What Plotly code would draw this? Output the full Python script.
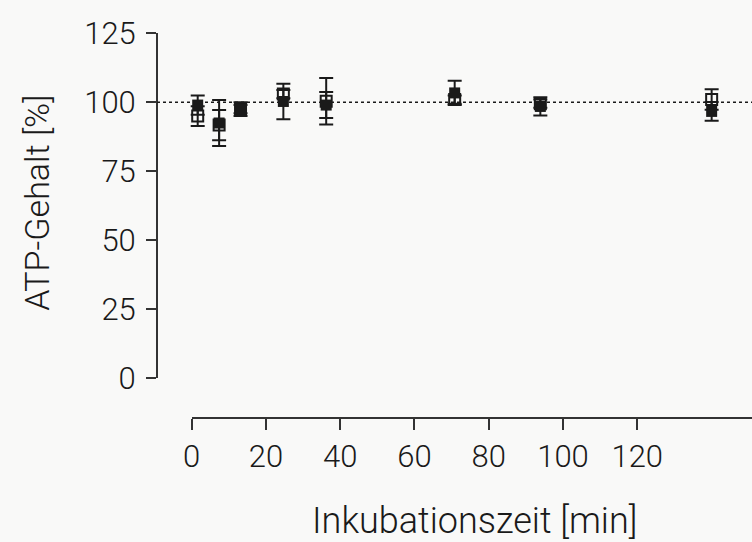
import plotly.graph_objects as go

# Incubation times [min]
times = [0, 5, 10, 20, 30, 60, 80, 120]

# ATP content [%], open squares
atp_open = [95, 91.75, 97.5, 103, 100.4, 101, 99.5, 101]
atp_open_err = [3.6, 5.5, 1.5, 1.5, 8.4, 1.5, 1.5, 3.7]

# ATP content [%], filled squares
atp_filled = [99, 92.5, 97.5, 100.3, 99, 103.4, 98.5, 96.7]
atp_filled_err = [3.5, 8.3, 2.5, 6.4, 4.7, 4.4, 3.3, 3.4]

x_ticks = [0, 20, 40, 60, 80, 100, 120]
y_ticks = [0, 25, 50, 75, 100, 125]
reference_level = 100

W, H = 752, 542
FONT = "Roboto"
INK = "#1a1a1a"


def px_x(p):
    return p / W


def px_y(p):
    return 1 - p / H


fig = go.Figure()

fig.add_trace(go.Scatter(
    x=times, y=atp_open,
    mode="markers",
    marker=dict(symbol="square-open", size=11, color=INK, line=dict(width=2, color=INK)),
    error_y=dict(type="data", array=atp_open_err, color=INK, thickness=2, width=7),
    cliponaxis=False,
    showlegend=False,
))

fig.add_trace(go.Scatter(
    x=times, y=atp_filled,
    mode="markers",
    marker=dict(symbol="square", size=11, color=INK, line=dict(width=0)),
    error_y=dict(type="data", array=atp_filled_err, color=INK, thickness=2, width=7),
    cliponaxis=False,
    showlegend=False,
))

# empty trace so the tick axis gets drawn
fig.add_trace(go.Scatter(x=[None], y=[None], xaxis="x2", yaxis="y",
                         showlegend=False, hoverinfo="skip"))

# dotted 100 % line
fig.add_shape(
    type="line", xref="paper", yref="y",
    x0=px_x(157), x1=1, y0=reference_level, y1=reference_level,
    line=dict(color=INK, width=1.5, dash="dot"),
)

fig.update_layout(
    width=W, height=H,
    margin=dict(l=0, r=0, t=0, b=0),
    paper_bgcolor="#f9f9f8",
    plot_bgcolor="rgba(0,0,0,0)",
    font=dict(family=FONT, color=INK, size=30, weight=300),
    # data axis (hidden)
    xaxis=dict(
        domain=[0, 1],
        range=[-46.16, 129.42],
        visible=False,
        anchor="y",
    ),
    # tick axis
    xaxis2=dict(
        domain=[px_x(191.7), 1],
        range=[0, (W - 191.7) / 3.713],
        anchor="free",
        position=px_y(417.7),
        showline=True, linewidth=2, linecolor="#333333",
        ticks="outside", ticklen=11, tickwidth=2, tickcolor="#333333",
        tickvals=x_ticks,
        tickfont=dict(family=FONT, size=31, color=INK, weight=300),
        showgrid=False, zeroline=False,
        automargin=False,
    ),
    yaxis=dict(
        domain=[px_y(378.3), px_y(33.3)],
        range=[0, 125],
        anchor="free",
        position=px_x(157),
        showline=True, linewidth=2, linecolor="#333333",
        ticks="outside", ticklen=10, tickwidth=2, tickcolor="#333333",
        tickvals=y_ticks,
        tickfont=dict(family=FONT, size=31, color=INK, weight=300),
        ticklabelstandoff=4,
        showgrid=False, zeroline=False,
        automargin=False,
    ),
    annotations=[
        dict(
            text="ATP-Gehalt [%]",
            xref="paper", yref="paper",
            x=px_x(37.5), y=px_y(203.3),
            textangle=-90, showarrow=False,
            xanchor="center", yanchor="middle",
            font=dict(family=FONT, size=34, color=INK, weight=300),
        ),
        dict(
            text="Inkubationszeit [min]",
            xref="paper", yref="paper",
            x=px_x(474), y=px_y(521),
            showarrow=False,
            xanchor="center", yanchor="middle",
            font=dict(family=FONT, size=36, color=INK, weight=300),
        ),
    ],
)

fig.write_html(
    "out.html",
    config={"displayModeBar": False},
    post_script="document.body.style.margin='0px';",
)
